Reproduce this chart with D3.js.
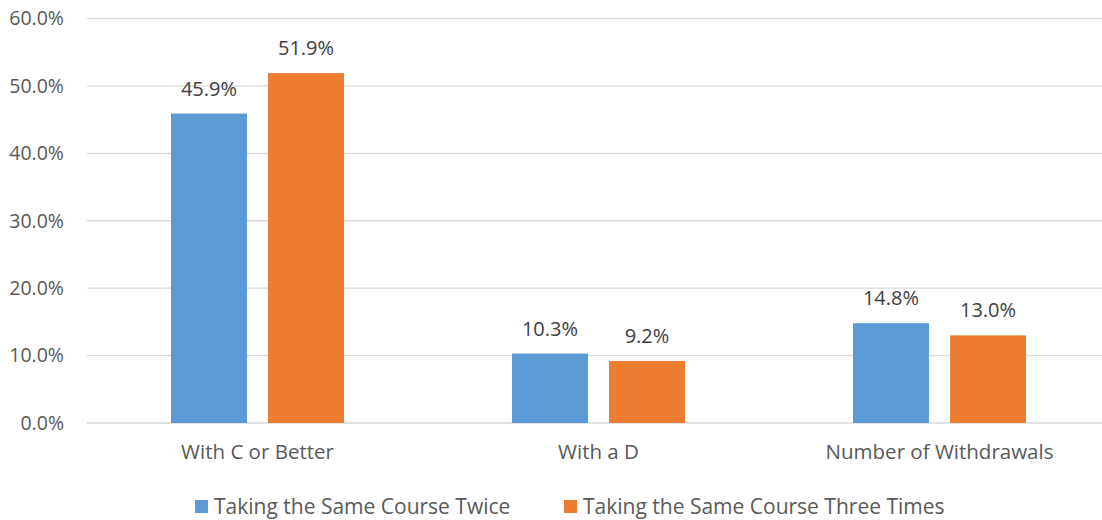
<!DOCTYPE html>
<html>
<head>
<meta charset="utf-8">
<script src="https://cdn.jsdelivr.net/npm/d3@7"></script>
<style>
	body { margin: 0; background: #fff; }
	svg { display: block; }
	svg text { font-family: "Open Sans", "Noto Sans", sans-serif; }
</style>
</head>
<body>
<div id="chart"></div>
<script>
const categories = ["With C or Better", "With a D", "Number of Withdrawals"];
const seriesNames = ["Taking the Same Course Twice", "Taking the Same Course Three Times"];
const twice = [45.9, 10.3, 14.8];
const threeTimes = [51.9, 9.2, 13.0];
const yTickValues = [0, 10, 20, 30, 40, 50, 60];
const colors = ["#5B9BD5", "#ED7D31"];

const width = 1102;
const height = 520;
const margin = { top: 18.5, left: 87, bottom: 97, right: -8 };

const svg = d3.select("#chart")
	.append("svg")
	.attr("width", width)
	.attr("height", height);

const yScale = d3.scaleLinear()
	.domain([0, 60])
	.range([height - margin.bottom, margin.top]);

const x0 = d3.scaleBand()
	.domain(categories)
	.range([margin.left, width - margin.right])
	.paddingInner(0)
	.paddingOuter(0);

// group of two bars inside each band
const x1 = d3.scaleBand()
	.domain(d3.range(seriesNames.length))
	.range([84, x0.bandwidth() - 84])
	.paddingInner(0.217);

// grid lines
svg.append("g")
	.attr("class", "grid-lines")
	.selectAll("line")
	.data(yTickValues)
	.join("line")
	.attr("x1", margin.left)
	.attr("x2", width - margin.right)
	.attr("y1", (d) => yScale(d))
	.attr("y2", (d) => yScale(d))
	.attr("stroke", "#D9D9D9")
	.attr("stroke-width", 1.3);

// y axis labels
const yAxis = d3.axisLeft(yScale)
	.tickValues(yTickValues)
	.tickSize(0)
	.tickPadding(23)
	.tickFormat((d) => d.toFixed(1) + "%");

svg.append("g")
	.attr("class", "y-axis")
	.attr("transform", `translate(${margin.left},0)`)
	.call(yAxis)
	.call((g) => g.select(".domain").remove())
	.call((g) => g.selectAll("text")
		.attr("fill", "#595959")
		.style("font-size", "19.5px"));

// x axis labels
const xAxis = d3.axisBottom(x0).tickSize(0).tickPadding(21);
svg.append("g")
	.attr("class", "x-axis")
	.attr("transform", `translate(0,${yScale(0)})`)
	.call(xAxis)
	.call((g) => g.select(".domain").remove())
	.call((g) => g.selectAll("text")
		.attr("fill", "#595959")
		.style("font-size", "20.5px"));

const rows = categories.map((c, i) => ({ category: c, values: [twice[i], threeTimes[i]] }));

const groups = svg.append("g")
	.selectAll("g")
	.data(rows)
	.join("g")
	.attr("transform", (d) => `translate(${x0(d.category)},0)`);

groups.selectAll("rect")
	.data((d) => d.values.map((v, k) => ({ k, v })))
	.join("rect")
	.attr("x", (d) => x1(d.k))
	.attr("width", x1.bandwidth())
	.attr("y", (d) => yScale(d.v))
	.attr("height", (d) => yScale(0) - yScale(d.v))
	.attr("fill", (d) => colors[d.k]);

groups.selectAll("text.value")
	.data((d) => d.values.map((v, k) => ({ k, v })))
	.join("text")
	.attr("class", "value")
	.attr("x", (d) => x1(d.k) + x1.bandwidth() / 2)
	.attr("y", (d) => yScale(d.v) - 18)
	.attr("text-anchor", "middle")
	.attr("fill", "#404040")
	.style("font-size", "20px")
	.text((d) => d.v.toFixed(1) + "%");

// legend
const legendX = [195, 564];
const legend = svg.append("g")
	.selectAll("g")
	.data(seriesNames)
	.join("g")
	.attr("transform", (d, i) => `translate(${legendX[i]},500)`);

legend.append("rect")
	.attr("width", 13)
	.attr("height", 13)
	.attr("fill", (d, i) => colors[i]);

legend.append("text")
	.attr("x", 19)
	.attr("y", 14)
	.attr("fill", "#595959")
	.style("font-size", "21px")
	.text((d) => d);
</script>
</body>
</html>
